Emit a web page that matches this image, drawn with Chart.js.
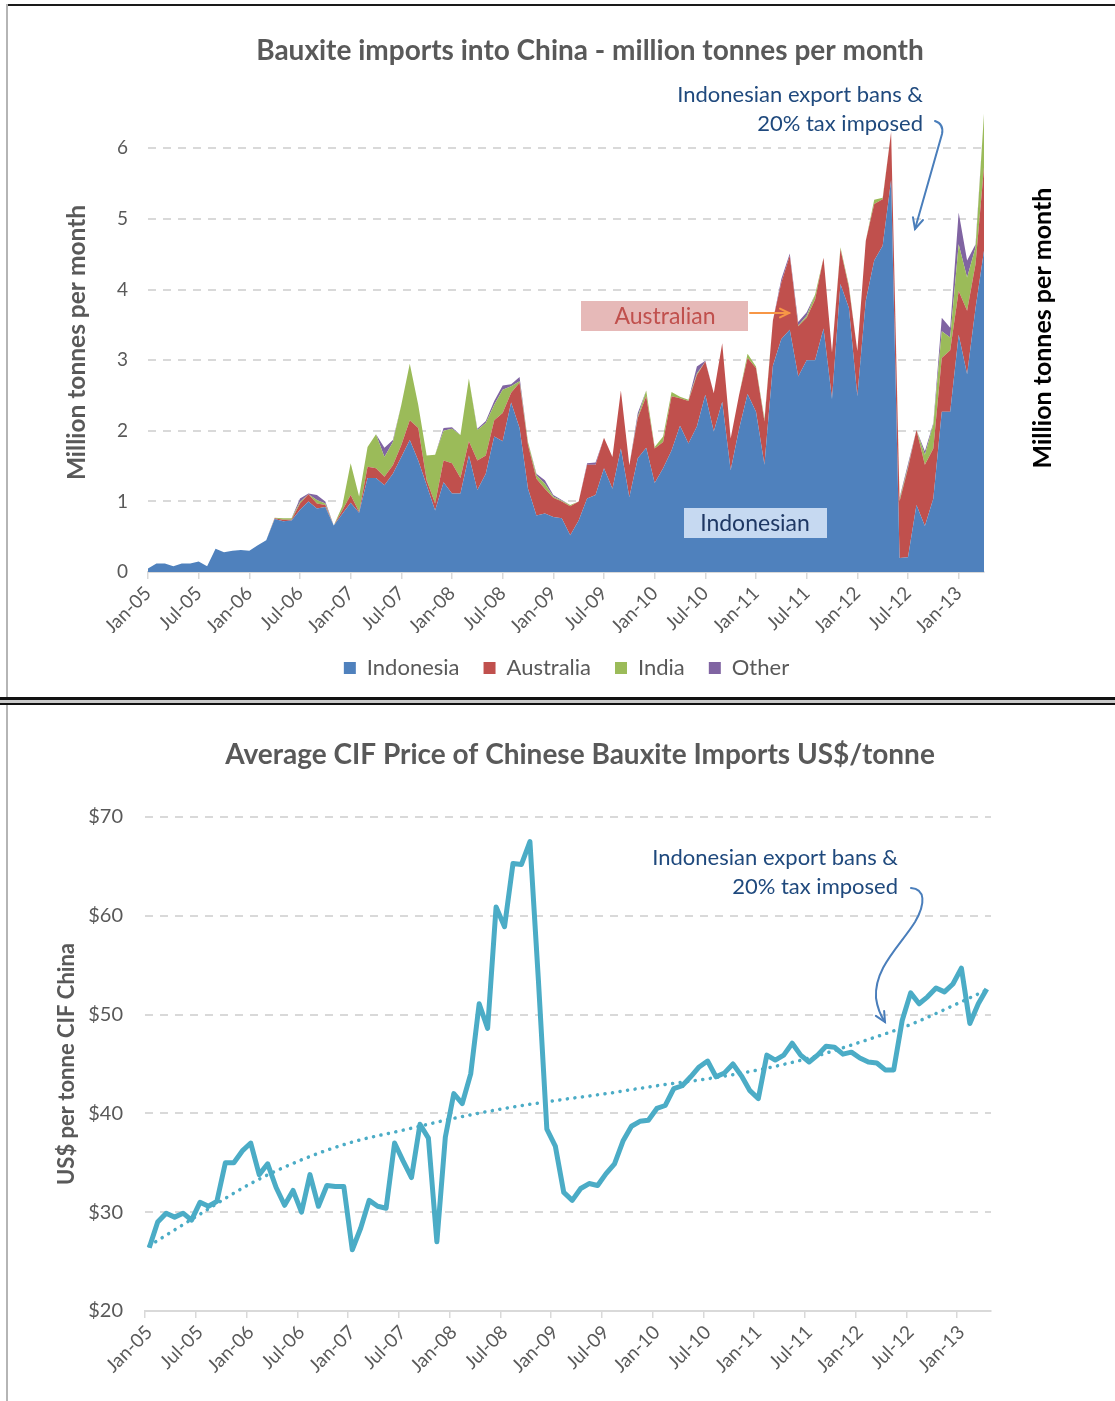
<!DOCTYPE html>
<html>
<head>
<meta charset="utf-8">
<script src="https://cdn.jsdelivr.net/npm/chart.js@4.4.0/dist/chart.umd.min.js"></script>
<style>
  body { margin: 0; background: #fff; width: 1115px; height: 1401px; position: relative; overflow: hidden; }
  .panel { position: absolute; left: 0; width: 1115px; }
  #topPanel { top: 0; height: 697px; }
  #bottomPanel { top: 705px; height: 696px; }
  .line { position: absolute; }
</style>
</head>
<body>
<div class="panel" id="topPanel"><canvas id="importsChart" width="1115" height="697"></canvas></div>
<div class="panel" id="bottomPanel"><canvas id="priceChart" width="1115" height="696"></canvas></div>

<!-- frame lines of the two spreadsheet chart boxes -->
<div class="line" style="left:6px;top:4px;width:1109px;height:2px;background:#1a1a1a"></div>
<div class="line" style="left:6px;top:4px;width:2px;height:694px;background:#b5b5b5"></div>
<div class="line" style="left:0;top:697px;width:1115px;height:3px;background:#111"></div>
<div class="line" style="left:0;top:700px;width:1115px;height:3px;background:#c9c9c9"></div>
<div class="line" style="left:0;top:703px;width:1115px;height:2px;background:#111"></div>
<div class="line" style="left:6px;top:705px;width:2px;height:696px;background:#b5b5b5"></div>

<script>
// --- DATA ---
const monthNames = ['Jan', 'Feb', 'Mar', 'Apr', 'May', 'Jun', 'Jul', 'Aug', 'Sep', 'Oct', 'Nov', 'Dec'];
const firstYear = 5;     // 2005
const monthCount = 100;  // Jan-05 .. Apr-13

// million tonnes per month, by origin
const indonesia = [
  0.05, 0.12, 0.12, 0.08, 0.12, 0.12, 0.15, 0.08, 0.33, 0.28,
  0.30, 0.31, 0.30, 0.38, 0.45, 0.75, 0.72, 0.73, 0.88, 1.00,
  0.90, 0.92, 0.66, 0.82, 0.98, 0.84, 1.33, 1.33, 1.23, 1.39,
  1.63, 1.87, 1.58, 1.23, 0.87, 1.27, 1.11, 1.11, 1.65, 1.16,
  1.39, 1.92, 1.85, 2.40, 2.04, 1.18, 0.80, 0.83, 0.78, 0.76,
  0.52, 0.73, 1.04, 1.09, 1.47, 1.18, 1.75, 1.06, 1.61, 1.76,
  1.26, 1.47, 1.72, 2.07, 1.82, 2.06, 2.51, 1.99, 2.41, 1.44,
  2.03, 2.52, 2.27, 1.52, 2.92, 3.30, 3.43, 2.77, 3.00, 3.00,
  3.45, 2.45, 4.08, 3.74, 2.49, 3.84, 4.41, 4.62, 5.55, 0.20,
  0.21, 0.95, 0.65, 1.04, 2.27, 2.27, 3.36, 2.80, 3.74, 4.55
];
const australia = [
  0, 0, 0, 0, 0, 0, 0, 0, 0, 0,
  0, 0, 0, 0, 0, 0.01, 0.02, 0.01, 0.09, 0.10,
  0.07, 0.03, 0, 0.05, 0.11, 0.01, 0.16, 0.14, 0.12, 0.12,
  0.17, 0.28, 0.46, 0.07, 0.10, 0.31, 0.43, 0.22, 0.20, 0.42,
  0.26, 0.23, 0.40, 0.14, 0.64, 0.62, 0.52, 0.35, 0.27, 0.24,
  0.41, 0.27, 0.48, 0.43, 0.43, 0.45, 0.82, 0.45, 0.57, 0.73,
  0.49, 0.37, 0.77, 0.39, 0.60, 0.73, 0.47, 0.54, 0.83, 0.45,
  0.48, 0.51, 0.62, 0.61, 0.64, 0.80, 1.05, 0.71, 0.60, 0.86,
  1.00, 0.66, 0.49, 0.29, 0.64, 0.85, 0.80, 0.66, 0.68, 0.80,
  1.26, 1.06, 0.87, 0.71, 0.76, 0.87, 0.62, 0.90, 0.62, 1.18
];
const india = [
  0, 0, 0, 0, 0, 0, 0, 0, 0, 0,
  0, 0, 0, 0, 0, 0.01, 0.02, 0.02, 0.02, 0,
  0.05, 0.02, 0, 0.06, 0.45, 0.22, 0.28, 0.48, 0.28, 0.33,
  0.57, 0.80, 0.33, 0.35, 0.69, 0.42, 0.49, 0.61, 0.89, 0.43,
  0.46, 0.22, 0.33, 0.09, 0.02, 0.04, 0.05, 0.07, 0.02, 0.01,
  0.02, 0, 0, 0, 0, 0, 0, 0, 0.02, 0.08,
  0.02, 0.08, 0.06, 0.02, 0.02, 0.02, 0, 0, 0, 0,
  0, 0.06, 0.02, 0.04, 0, 0, 0, 0.01, 0.03, 0.07,
  0, 0, 0.03, 0.03, 0, 0, 0.06, 0.02, 0, 0.03,
  0.02, 0, 0.14, 0.34, 0.38, 0.18, 0.66, 0.47, 0.24, 0.76
];
const other = [
  0, 0, 0, 0, 0, 0, 0, 0, 0, 0,
  0, 0, 0, 0, 0, 0, 0, 0, 0.05, 0.01,
  0.07, 0.03, 0, 0, 0, 0, 0, 0, 0.13, 0.03,
  0, 0, 0, 0, 0, 0.04, 0.02, 0, 0, 0.02,
  0.03, 0.05, 0.06, 0.03, 0.06, 0, 0.02, 0.05, 0.02, 0.01,
  0, 0, 0.02, 0.03, 0, 0, 0, 0, 0.05, 0,
  0, 0, 0, 0, 0, 0.10, 0.01, 0, 0, 0,
  0, 0, 0, 0, 0, 0.05, 0.03, 0.05, 0.05, 0,
  0, 0, 0, 0, 0, 0, 0, 0, 0, 0.02,
  0.04, 0, 0.05, 0.02, 0.19, 0.14, 0.45, 0.24, 0.04, 0
];

// average CIF price, US$/tonne
const price = [
  26.4, 29.0, 29.9, 29.5, 29.9, 29.2, 31.0, 30.6, 31.1, 35.0,
  35.0, 36.2, 37.0, 33.8, 34.9, 32.5, 30.7, 32.2, 30.0, 33.8,
  30.6, 32.7, 32.6, 32.6, 26.2, 28.4, 31.2, 30.6, 30.4, 37.0,
  35.2, 33.5, 38.9, 37.5, 27.0, 37.6, 42.0, 41.0, 44.0, 51.1,
  48.6, 60.9, 58.9, 65.3, 65.2, 67.5, 53.5, 38.4, 36.7, 32.0,
  31.2, 32.4, 32.9, 32.7, 33.9, 34.9, 37.2, 38.7, 39.2, 39.3,
  40.5, 40.8, 42.5, 42.8, 43.7, 44.7, 45.3, 43.7, 44.1, 45.0,
  43.8, 42.3, 41.5, 45.9, 45.4, 45.9, 47.1, 45.9, 45.2, 45.9,
  46.8, 46.7, 46.0, 46.2, 45.6, 45.2, 45.1, 44.4, 44.4, 49.4,
  52.2, 51.1, 51.8, 52.7, 52.3, 53.1, 54.7, 49.1, 51.1, 52.6
];
// dotted trend line, every six months
const trendMonths = [0, 6, 12, 18, 24, 30, 36, 42, 48, 54, 60, 66, 72, 78, 84, 90, 96, 99];
const trendValues = [26.6, 29.8, 32.9, 35.3, 37.1, 38.3, 39.5, 40.5, 41.3, 42.0, 42.8, 43.5, 44.4, 45.6, 47.2, 49.0, 51.3, 52.5];

const importTicks = [0, 1, 2, 3, 4, 5, 6];
const priceTicks = [20, 30, 40, 50, 60, 70];

// --- HELPERS ---
const monthLabels = [];
for (let i = 0; i < monthCount; i++) {
  const yy = String(firstYear + Math.floor(i / 12)).padStart(2, '0');
  monthLabels.push(`${monthNames[i % 12]}-${yy}`);
}
// every month keeps its tick, only each sixth one gets a label and a tick mark
const halfYearLabel = (value, index) => (index % 6 === 0 ? monthLabels[index] : '');
const halfYearTick = (c) => (c.index % 6 === 0 ? GRID : 'rgba(0,0,0,0)');

const trendData = monthLabels.map(() => null);
trendMonths.forEach((m, k) => { trendData[m] = trendValues[k]; });

const GREY = '#595959';
const GRID = '#D9D9D9';
const NAVY = '#1F497D';
const FONT = 'Lato, "Open Sans", sans-serif';
Chart.defaults.font.family = FONT;
Chart.defaults.color = GREY;

function arrowHead(ctx, fromX, fromY, toX, toY, size) {
  const a = Math.atan2(toY - fromY, toX - fromX);
  ctx.beginPath();
  ctx.moveTo(toX - size * Math.cos(a - 0.45), toY - size * Math.sin(a - 0.45));
  ctx.lineTo(toX, toY);
  ctx.lineTo(toX - size * Math.cos(a + 0.45), toY - size * Math.sin(a + 0.45));
  ctx.stroke();
}

function chartTitle(ctx, text, x, y) {
  ctx.font = `bold 28px ${FONT}`;
  ctx.fillStyle = GREY;
  ctx.textAlign = 'center';
  ctx.textBaseline = 'middle';
  ctx.fillText(text, x, y);
}

// title and notes of the imports chart
const importNotes = {
  id: 'importNotes',
  afterDraw(chart) {
    const ctx = chart.ctx;
    ctx.save();
    chartTitle(ctx, 'Bauxite imports into China - million tonnes per month', 590, 51);

    ctx.font = `22px ${FONT}`;
    ctx.fillStyle = NAVY;
    ctx.textAlign = 'right';
    ctx.fillText('Indonesian export bans &', 923, 95);
    ctx.fillText('20% tax imposed', 923, 124);

    ctx.strokeStyle = '#4A7EBB';
    ctx.lineWidth = 2;
    ctx.lineCap = 'round';
    ctx.beginPath();
    ctx.moveTo(935, 121);
    ctx.quadraticCurveTo(944, 124, 942, 134);
    ctx.lineTo(915, 229);
    ctx.stroke();
    arrowHead(ctx, 942, 134, 915, 229, 12);

    // Australian label + orange pointer
    ctx.font = `23px ${FONT}`;
    ctx.fillStyle = '#E6B9B8';
    ctx.fillRect(581, 301, 167, 30);
    ctx.fillStyle = '#C0504D';
    ctx.textAlign = 'center';
    ctx.fillText('Australian', 665, 317);
    ctx.strokeStyle = '#F79646';
    ctx.beginPath();
    ctx.moveTo(750, 313);
    ctx.lineTo(789, 313);
    ctx.stroke();
    arrowHead(ctx, 750, 313, 789, 313, 10);

    // Indonesian label
    ctx.fillStyle = '#C6D9F1';
    ctx.fillRect(684, 508, 143, 30);
    ctx.fillStyle = '#1F3864';
    ctx.fillText('Indonesian', 755, 524);

    // right hand axis title
    ctx.translate(1043, 328);
    ctx.rotate(-Math.PI / 2);
    ctx.font = `bold 25px ${FONT}`;
    ctx.fillStyle = '#000';
    ctx.fillText('Million tonnes per month', 0, 0);
    ctx.restore();
  }
};

const priceNotes = {
  id: 'priceNotes',
  afterDraw(chart) {
    const ctx = chart.ctx;
    const dy = 705; // canvas offset on the page
    ctx.save();
    chartTitle(ctx, 'Average CIF Price of Chinese Bauxite Imports US$/tonne', 580, 755 - dy);

    ctx.font = `22px ${FONT}`;
    ctx.fillStyle = NAVY;
    ctx.textAlign = 'right';
    ctx.fillText('Indonesian export bans &', 898, 858 - dy);
    ctx.fillText('20% tax imposed', 898, 887 - dy);

    ctx.strokeStyle = '#4A7EBB';
    ctx.lineWidth = 2;
    ctx.lineCap = 'round';
    ctx.beginPath();
    ctx.moveTo(911, 888 - dy);
    ctx.bezierCurveTo(925, 889 - dy, 926, 903 - dy, 915, 922 - dy);
    ctx.bezierCurveTo(900, 946 - dy, 874, 968 - dy, 876, 998 - dy);
    ctx.quadraticCurveTo(878, 1012 - dy, 885, 1022 - dy);
    ctx.stroke();
    arrowHead(ctx, 878, 1010 - dy, 885, 1022 - dy, 11);
    ctx.restore();
  }
};

// --- TOP: stacked monthly imports ---
const area = (label, data, color, fill) => ({
  label, data, fill,
  backgroundColor: color,
  borderColor: color,
  borderWidth: 0,
  pointRadius: 0,
  tension: 0
});

new Chart(document.getElementById('importsChart'), {
  type: 'line',
  data: {
    labels: monthLabels,
    datasets: [
      area('Indonesia', indonesia, '#4F81BD', 'origin'),
      area('Australia', australia, '#C0504D', '-1'),
      area('India', india, '#9BBB59', '-1'),
      area('Other', other, '#8064A2', '-1')
    ]
  },
  options: {
    responsive: false,
    animation: false,
    layout: { padding: { top: 113, left: 18, right: 0, bottom: 8 } },
    plugins: {
      legend: {
        position: 'bottom',
        labels: { boxWidth: 12, boxHeight: 12, padding: 24, color: GREY, font: { size: 22 } }
      },
      tooltip: { enabled: false }
    },
    scales: {
      x: {
        offset: false,
        ticks: { autoSkip: false, minRotation: 45, maxRotation: 45, padding: 3, font: { size: 19 }, callback: halfYearLabel },
        grid: { drawOnChartArea: false, drawTicks: true, tickLength: 7, color: GRID, tickColor: halfYearTick, lineWidth: 1.5 },
        border: { display: true, color: GRID, width: 2 },
        afterFit: (axis) => { axis.height = 61; }
      },
      y: {
        stacked: true,
        min: 0,
        max: 6.5,
        afterBuildTicks: (axis) => { axis.ticks = importTicks.map(v => ({ value: v })); },
        ticks: { padding: 20, font: { size: 19 } },
        grid: { color: GRID, lineWidth: 2, drawTicks: false },
        border: { display: false, dash: [8, 7] },
        title: {
          display: true, text: 'Million tonnes per month', color: GREY,
          font: { size: 24.5, weight: 'bold' }, padding: { top: 44, bottom: 0 }
        },
        afterFit: (axis) => { axis.width = 130; }
      },
      // empty right axis: keeps room for the right hand title
      y2: {
        type: 'linear',
        position: 'right',
        ticks: { display: false },
        grid: { display: false },
        border: { display: false },
        afterFit: (axis) => { axis.width = 131; }
      }
    }
  },
  plugins: [importNotes]
});

// --- BOTTOM: average CIF price ---
new Chart(document.getElementById('priceChart'), {
  type: 'line',
  data: {
    labels: monthLabels,
    datasets: [
      {
        label: 'Price',
        data: price,
        borderColor: '#4BACC6',
        borderWidth: 5,
        borderJoinStyle: 'round',
        pointRadius: 0,
        tension: 0
      },
      {
        label: 'Trend',
        data: trendData,
        spanGaps: true,
        borderColor: '#4BACC6',
        borderWidth: 3.5,
        borderDash: [0.1, 7.5],
        borderCapStyle: 'round',
        cubicInterpolationMode: 'monotone',
        pointRadius: 0
      }
    ]
  },
  options: {
    responsive: false,
    animation: false,
    layout: { padding: { top: 112, left: 50, right: 124, bottom: 4 } },
    plugins: {
      legend: { display: false },
      tooltip: { enabled: false }
    },
    scales: {
      x: {
        offset: true,
        ticks: { autoSkip: false, minRotation: 45, maxRotation: 45, padding: 3, font: { size: 19 }, callback: halfYearLabel },
        grid: { offset: true, drawOnChartArea: false, drawTicks: true, tickLength: 7, color: GRID, tickColor: halfYearTick, lineWidth: 1.5 },
        border: { display: true, color: GRID, width: 2 },
        afterFit: (axis) => { axis.height = 86; }
      },
      y: {
        min: 20,
        max: 70,
        afterBuildTicks: (axis) => { axis.ticks = priceTicks.map(v => ({ value: v })); },
        ticks: { padding: 22, font: { size: 20 }, callback: (v) => '$' + v },
        grid: { color: GRID, lineWidth: 2, drawTicks: false },
        border: { display: false, dash: [8, 7] },
        title: { display: true, text: 'US$ per tonne CIF China', color: GREY, font: { size: 22, weight: 'bold' } },
        afterFit: (axis) => { axis.width = 95; }
      }
    }
  },
  plugins: [priceNotes]
});
</script>
</body>
</html>
